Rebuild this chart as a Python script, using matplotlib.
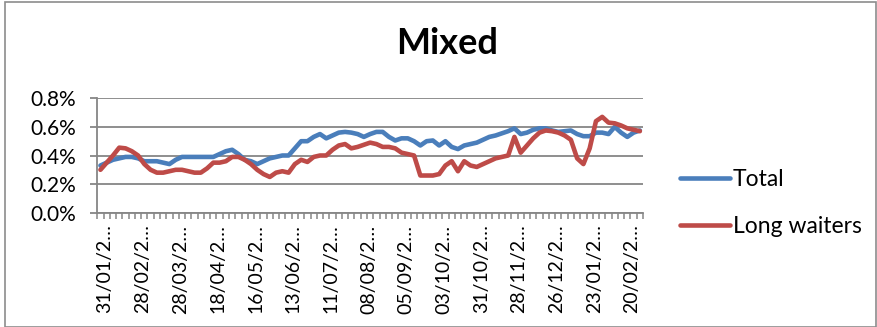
import matplotlib
matplotlib.use("Agg")
import matplotlib.pyplot as plt
import matplotlib.transforms as mtransforms
from matplotlib.patches import Rectangle
import numpy as np

title = "Mixed"
series_names = ["Total", "Long waiters"]
label_dates = ["31/01/2…", "28/02/2…", "28/03/2…", "18/04/2…", "16/05/2…",
               "13/06/2…", "11/07/2…", "08/08/2…", "05/09/2…", "03/10/2…",
               "31/10/2…", "28/11/2…", "26/12/2…", "23/01/2…", "20/02/2…"]
label_every = 6

# values in percent
total = [0.33, 0.35, 0.37, 0.38, 0.39, 0.39, 0.38, 0.36, 0.36, 0.36,
         0.35, 0.34, 0.37, 0.39, 0.39, 0.39, 0.39, 0.39, 0.39, 0.41,
         0.43, 0.44, 0.41, 0.37, 0.36, 0.34, 0.36, 0.38, 0.39, 0.40,
         0.40, 0.45, 0.50, 0.50, 0.53, 0.55, 0.52, 0.54, 0.56, 0.565,
         0.56, 0.55, 0.53, 0.55, 0.565, 0.565, 0.53, 0.505, 0.52, 0.52,
         0.50, 0.47, 0.50, 0.505, 0.47, 0.50, 0.46, 0.445, 0.47, 0.48,
         0.49, 0.51, 0.53, 0.54, 0.555, 0.57, 0.59, 0.55, 0.56, 0.58,
         0.59, 0.59, 0.575, 0.565, 0.57, 0.575, 0.55, 0.535, 0.535, 0.56,
         0.56, 0.55, 0.60, 0.56, 0.53, 0.56, 0.575]

long_waiters = [0.30, 0.35, 0.40, 0.455, 0.45, 0.43, 0.40, 0.34, 0.30, 0.28,
                0.28, 0.29, 0.30, 0.30, 0.29, 0.28, 0.28, 0.31, 0.35, 0.35,
                0.36, 0.39, 0.39, 0.37, 0.34, 0.30, 0.27, 0.25, 0.28, 0.29,
                0.28, 0.34, 0.37, 0.355, 0.39, 0.40, 0.40, 0.44, 0.47, 0.48,
                0.45, 0.46, 0.475, 0.49, 0.48, 0.46, 0.46, 0.45, 0.42, 0.41,
                0.40, 0.26, 0.26, 0.26, 0.27, 0.33, 0.36, 0.29, 0.36, 0.33,
                0.32, 0.34, 0.36, 0.38, 0.39, 0.40, 0.53, 0.42, 0.47, 0.52,
                0.56, 0.575, 0.57, 0.56, 0.54, 0.51, 0.38, 0.34, 0.45, 0.64,
                0.67, 0.63, 0.625, 0.61, 0.59, 0.58, 0.57]

y_ticks = [0.0, 0.2, 0.4, 0.6, 0.8]

W, H = 877, 327
fig = plt.figure(figsize=(W / 100, H / 100), dpi=100)
plt.rcParams['font.family'] = ['Lato', 'DejaVu Sans']

# chart border
fig.patches.append(Rectangle((5 / W, 0.5 / H), (W - 6.5) / W, (H - 2.5) / H,
                             transform=fig.transFigure, fill=False,
                             edgecolor='#8c8c8c', linewidth=1.2))

ax = fig.add_axes([97.3 / W, 1 - 212.7 / H, 545.7 / W, 114.4 / H])
n = len(total)
x = np.arange(n)
blue = '#4A7EBB'
red = '#BE4B48'
ax.plot(x, total, color=blue, lw=3.3, solid_joinstyle='round', solid_capstyle='round', label=series_names[0], zorder=3)
ax.plot(x, long_waiters, color=red, lw=3.3, solid_joinstyle='round', solid_capstyle='round', label=series_names[1], zorder=4)

ax.set_xlim(-0.5, n - 0.5)
ax.set_ylim(0, 0.8)
ax.set_yticks(y_ticks)
ax.set_yticklabels([f"{v:.1f}%" for v in y_ticks], fontsize=15)
gray = '#868686'
ax.yaxis.grid(True, color=gray, lw=1.3)
ax.set_axisbelow(True)
for s in ['top', 'right']:
    ax.spines[s].set_visible(False)
for s in ['left', 'bottom']:
    ax.spines[s].set_color(gray)
    ax.spines[s].set_linewidth(1.3)
ax.tick_params(axis='y', direction='out', length=5, width=1.3, color=gray, pad=10.5)

major = list(range(0, n, label_every))[:len(label_dates)]
ax.set_xticks(major)
ax.set_xticklabels(label_dates, rotation=90, fontsize=14, va='top', ha='center')
ax.set_xticks(np.arange(-0.5, n, 1.0), minor=True)
ax.tick_params(axis='x', which='major', length=0, pad=8.5)
ax.tick_params(axis='x', which='minor', direction='out', length=4.5, width=1.1, color=gray)
offset = mtransforms.ScaledTranslation(4.5 / 100, 0, fig.dpi_scale_trans)
for lbl in ax.get_xticklabels():
    lbl.set_transform(lbl.get_transform() + offset)

fig.text(447 / W, 1 - 44 / H, title, ha='center', va='center', fontsize=26, fontweight='bold')

fig.legend(loc='center left', bbox_to_anchor=(680 / W, 1 - 203 / H), frameon=False,
           fontsize=16.5, handlelength=2.2, handletextpad=0.1, labelspacing=1.1,
           borderaxespad=0, borderpad=0)

fig.savefig('out.png', dpi=100)
